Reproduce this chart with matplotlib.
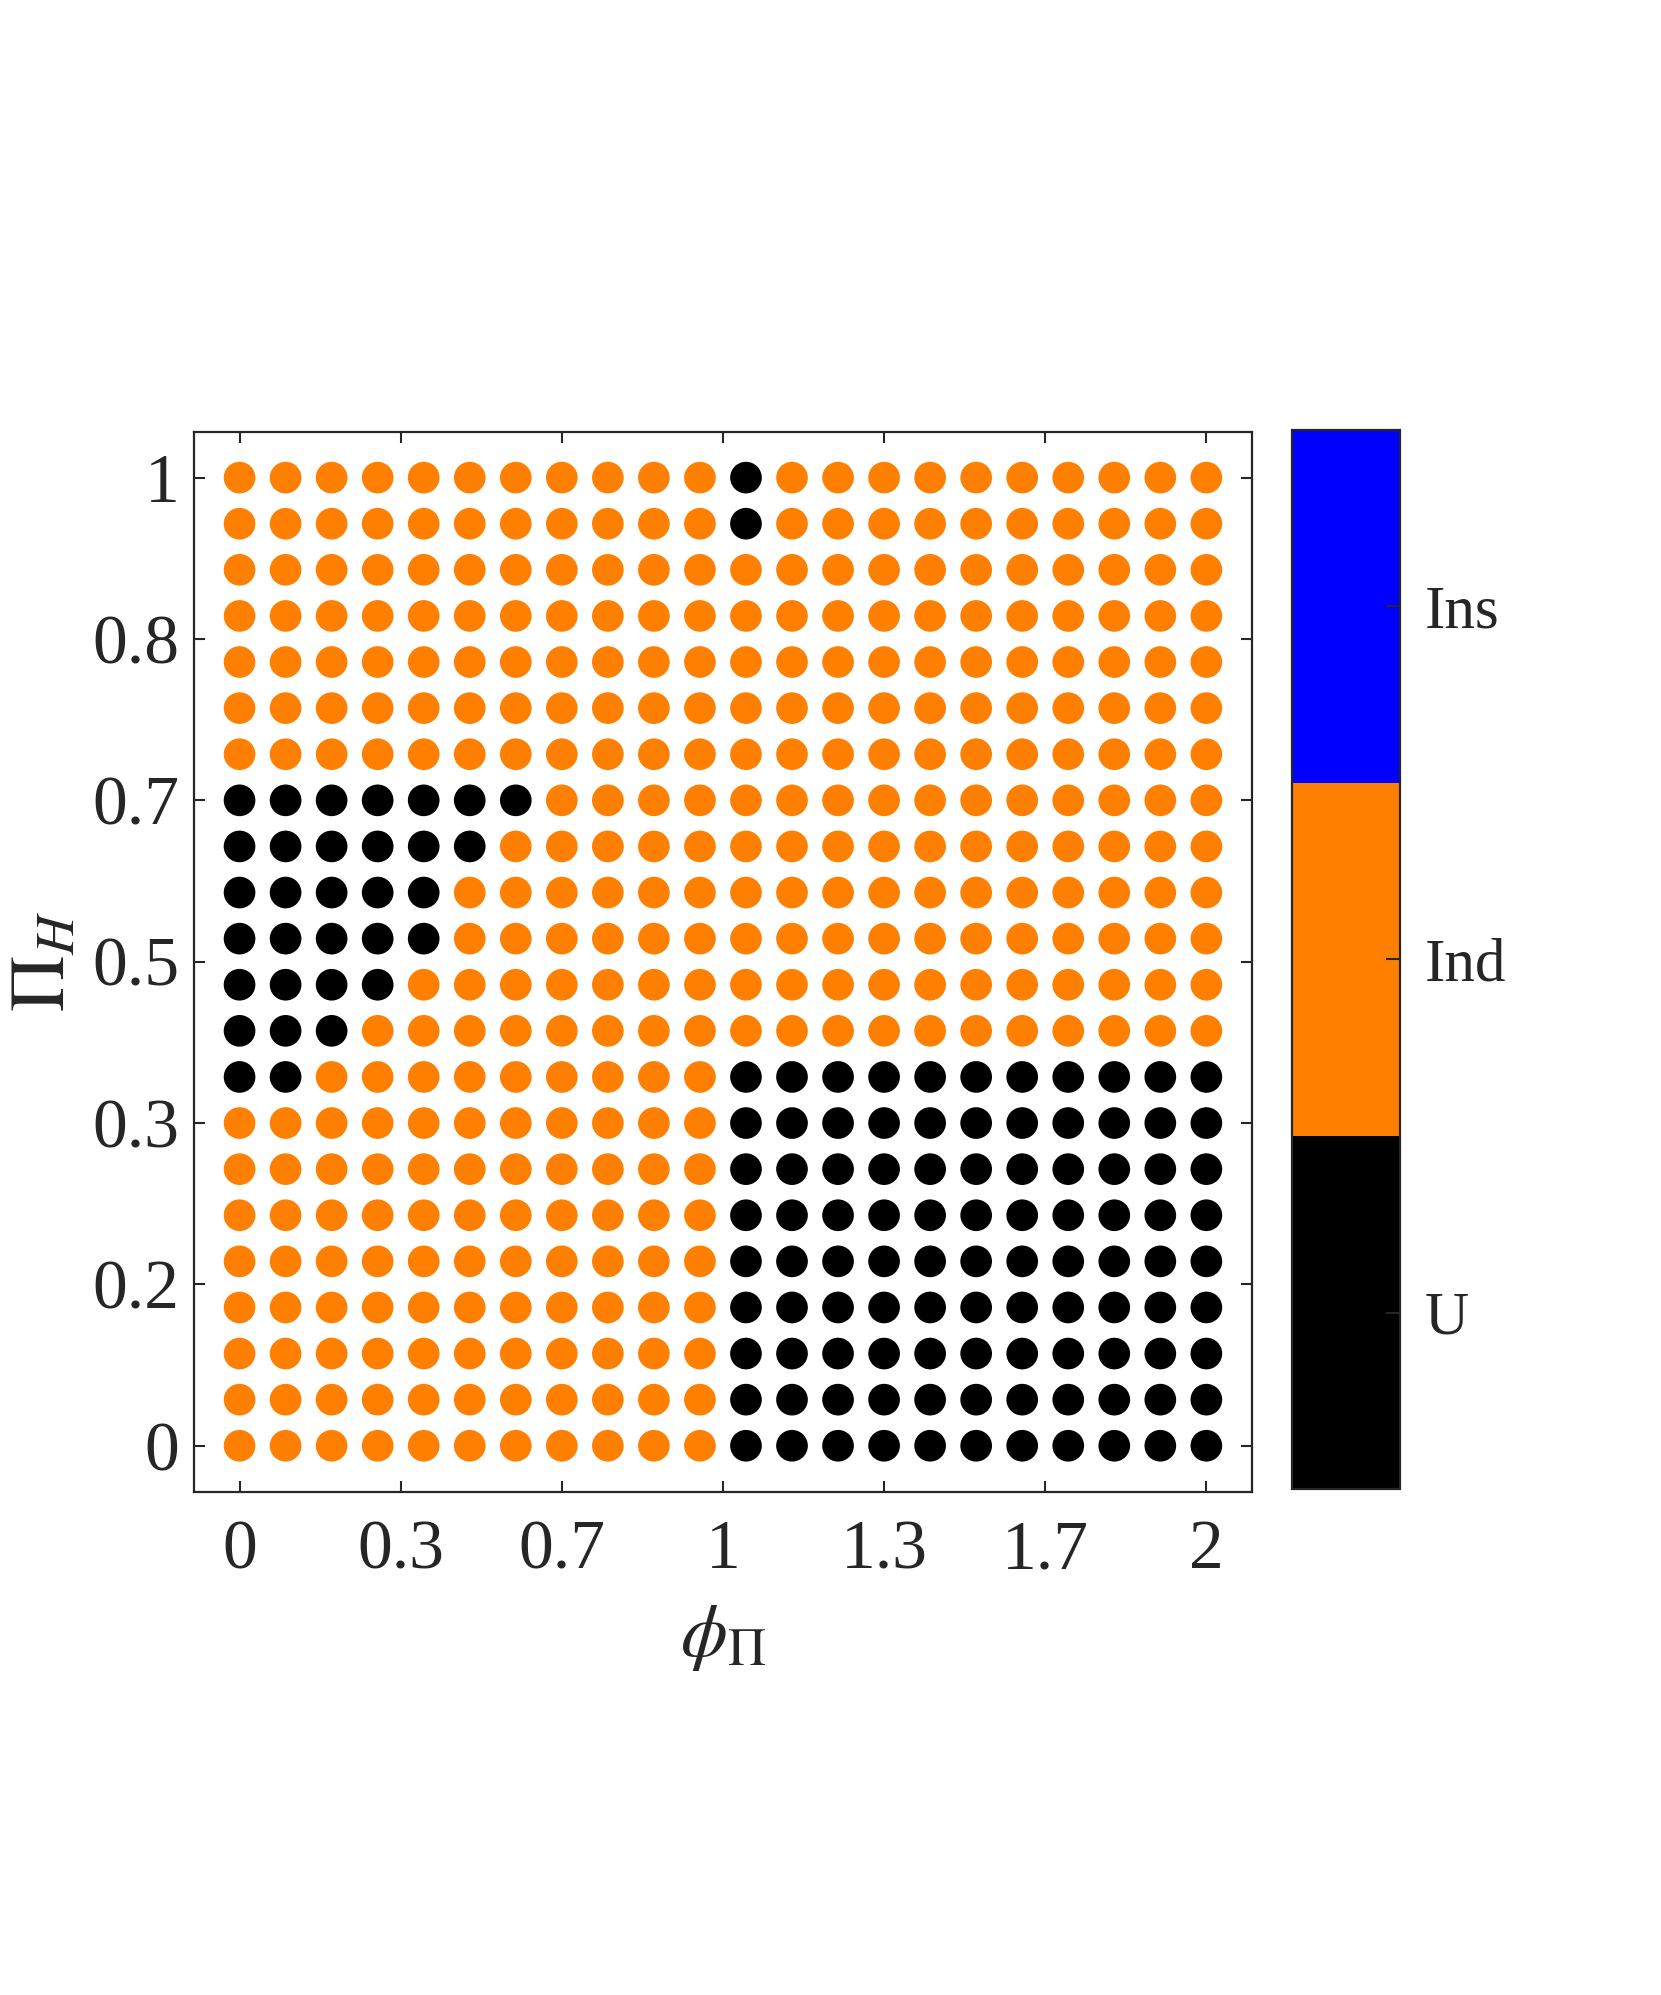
import numpy as np
import matplotlib.pyplot as plt
from matplotlib.colors import ListedColormap

plt.rcParams['font.family'] = ['Liberation Serif', 'DejaVu Serif']
plt.rcParams['mathtext.fontset'] = 'stix'

# regime map, rows from top (Pi_H = 1) to bottom (Pi_H = 0)
# I = Ind, U = U, S = Ins
grid_rows = [
    'IIIIIIIIIIIUIIIIIIIIII',
    'IIIIIIIIIIIUIIIIIIIIII',
    'IIIIIIIIIIIIIIIIIIIIII',
    'IIIIIIIIIIIIIIIIIIIIII',
    'IIIIIIIIIIIIIIIIIIIIII',
    'IIIIIIIIIIIIIIIIIIIIII',
    'IIIIIIIIIIIIIIIIIIIIII',
    'UUUUUUUIIIIIIIIIIIIIII',
    'UUUUUUIIIIIIIIIIIIIIII',
    'UUUUUIIIIIIIIIIIIIIIII',
    'UUUUUIIIIIIIIIIIIIIIII',
    'UUUUIIIIIIIIIIIIIIIIII',
    'UUUIIIIIIIIIIIIIIIIIII',
    'UUIIIIIIIIIUUUUUUUUUUU',
    'IIIIIIIIIIIUUUUUUUUUUU',
    'IIIIIIIIIIIUUUUUUUUUUU',
    'IIIIIIIIIIIUUUUUUUUUUU',
    'IIIIIIIIIIIUUUUUUUUUUU',
    'IIIIIIIIIIIUUUUUUUUUUU',
    'IIIIIIIIIIIUUUUUUUUUUU',
    'IIIIIIIIIIIUUUUUUUUUUU',
    'IIIIIIIIIIIUUUUUUUUUUU',
]
phi_vals = np.linspace(0, 2, 22)
pih_vals = np.linspace(1, 0, 22)
codes = {'U': 0, 'I': 1, 'S': 2}
regime_labels = ['U', 'Ind', 'Ins']
regime_colors = ['#000000', '#FF8000', '#0000FF']

x_ticks = [0, 1/3, 2/3, 1, 4/3, 5/3, 2]
x_ticklabels = ['0', '0.3', '0.7', '1', '1.3', '1.7', '2']
y_ticks = [0, 1/6, 2/6, 3/6, 4/6, 5/6, 1]
y_ticklabels = ['0', '0.2', '0.3', '0.5', '0.7', '0.8', '1']

X, Y = np.meshgrid(phi_vals, pih_vals)
C = np.array([[codes[ch] for ch in row] for row in grid_rows])

fig = plt.figure(figsize=(16.61, 19.95), dpi=100)
ax = fig.add_axes([0.1165, 0.2522, 0.6375, 0.5315])
cax = fig.add_axes([0.7778, 0.2536, 0.065, 0.531])

cmap = ListedColormap(regime_colors)
sc = ax.scatter(X.ravel(), Y.ravel(), c=C.ravel(), cmap=cmap, vmin=-0.5, vmax=2.5,
                s=520, linewidths=0)

edge = '#262626'
ax.set_xlim(-2/21, 2 + 2/21)
ax.set_ylim(-1/21, 1 + 1/21)
ax.set_xticks(x_ticks)
ax.set_xticklabels(x_ticklabels)
ax.set_yticks(y_ticks)
ax.set_yticklabels(y_ticklabels)
ax.tick_params(direction='in', length=8, width=1.5, colors=edge, labelsize=50,
               top=True, right=True)
ax.tick_params(axis='x', pad=20)
ax.tick_params(axis='y', pad=10)
for sp in ax.spines.values():
    sp.set_color(edge)
    sp.set_linewidth(1.6)

ax.set_xlabel(r'$\phi_{\Pi}$', fontsize=54, color=edge, labelpad=14)
ax.set_ylabel(r'$\Pi_H$', fontsize=56, color=edge, labelpad=8)

cb = fig.colorbar(sc, cax=cax, ticks=[0, 1, 2])
cb.ax.set_yticklabels(regime_labels)
cb.ax.tick_params(direction='in', length=10, width=1.5, colors=edge, labelsize=44, pad=18)
cb.outline.set_edgecolor(edge)
cb.outline.set_linewidth(1.6)

fig.savefig('out.png', dpi=100, facecolor='white')
